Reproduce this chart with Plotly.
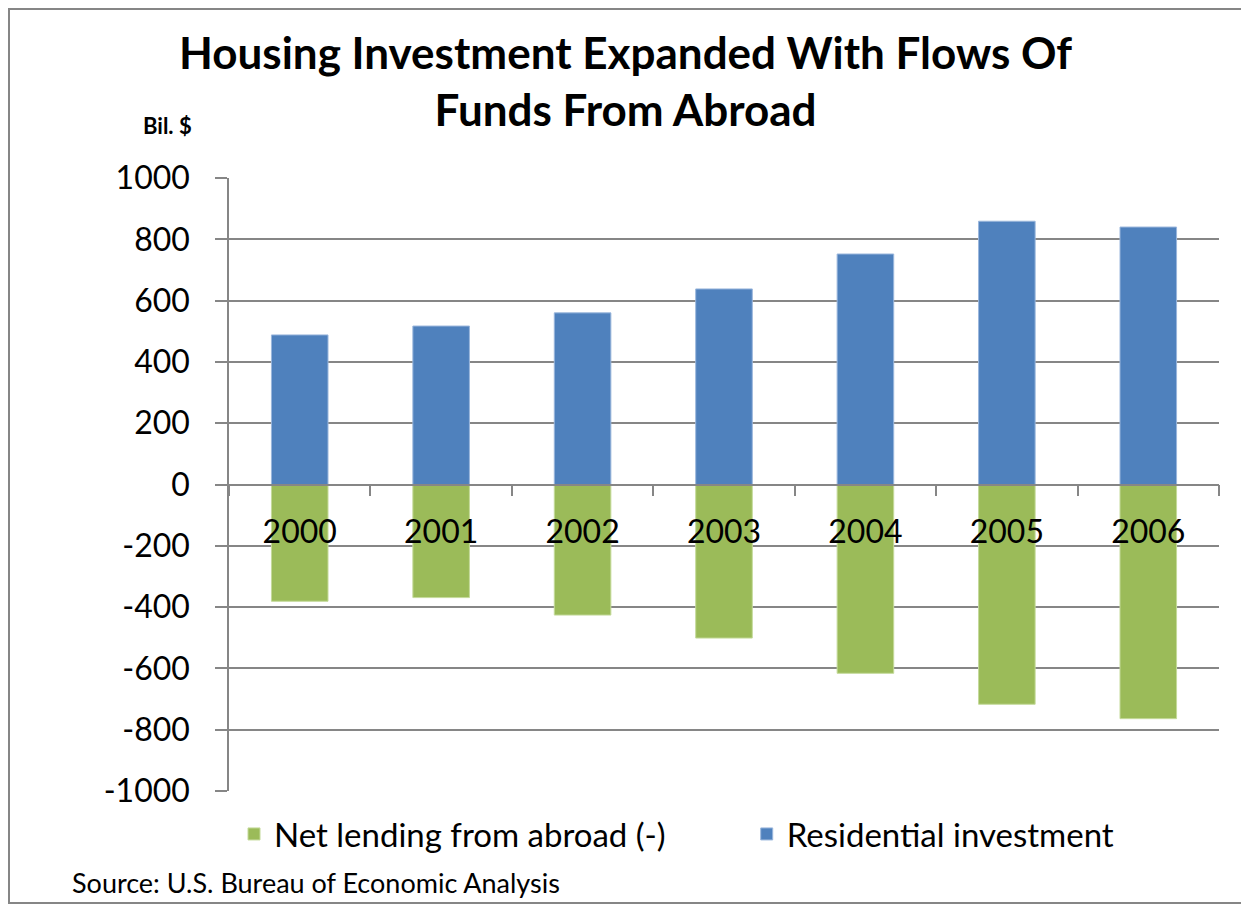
import plotly.graph_objects as go

years = ["2000", "2001", "2002", "2003", "2004", "2005", "2006"]
net_lending = [-381, -369, -426, -501, -616, -717, -764]
residential = [488, 517, 560, 638, 752, 859, 840]
series_names = ["Net lending from abroad (-)", "Residential investment"]
y_ticks = [-1000, -800, -600, -400, -200, 0, 200, 400, 600, 800, 1000]
y_tick_text = ["-1000", "-800", "-600", "-400", "-200", "0", "200", "400", "600", "800", "1000"]

FONT = "Lato"
OFF = 8  # page body margin
W, H = 1249 - OFF, 904 - OFF
L, T = 229 - OFF, 178 - OFF
PW, PH = 990, 613
R, B = W - L - PW, H - T - PH

def px(x):
    # reference screen pixel -> paper x
    return (x - OFF - L) / PW

def py(y):
    # reference screen pixel -> paper y
    return (T + PH - (y - OFF)) / PH

PAD = "\u00a0" * 9  # spacing between legend entries

fig = go.Figure()
fig.add_trace(go.Bar(
    x=years, y=net_lending, name=series_names[0] + PAD,
    marker=dict(color="#9BBB59", line=dict(color="#C4DA9A", width=1)),
    width=0.4,
))
fig.add_trace(go.Bar(
    x=years, y=residential, name=series_names[1],
    marker=dict(color="#4F81BD", line=dict(color="#9AB6DC", width=1)),
    width=0.4,
))

fig.update_layout(
    width=W, height=H,
    margin=dict(l=L, r=R, t=T, b=B),
    paper_bgcolor="white", plot_bgcolor="white",
    barmode="relative",
    font=dict(family=FONT, color="black"),
    showlegend=True,
    legend=dict(
        orientation="h", x=px(234), xanchor="left", y=py(834), yanchor="middle",
        font=dict(family=FONT, size=33, color="black"),
        traceorder="normal", itemwidth=30,
    ),
    xaxis=dict(
        type="category",
        anchor="free", position=0.5,
        showline=True, linecolor="#868686", linewidth=1.5,
        ticks="outside", tickson="boundaries", ticklen=11, tickcolor="#868686", tickwidth=1.5,
        tickfont=dict(family=FONT, size=32, color="black"),
        ticklabelstandoff=19,
        showgrid=False, zeroline=False,
        range=[-0.5, 6.5],
    ),
    yaxis=dict(
        range=[-1000, 1000], tickvals=y_ticks, ticktext=y_tick_text,
        showline=True, linecolor="#868686", linewidth=1.5,
        ticks="outside", ticklen=12, tickcolor="#868686", tickwidth=1.5,
        showgrid=True, gridcolor="#868686", gridwidth=1.5,
        zeroline=False,
        tickfont=dict(family=FONT, size=32, color="black"),
        ticklabelstandoff=19,
    ),
)

fig.add_annotation(
    text="<b>Housing Investment Expanded With Flows Of<br>Funds From Abroad</b>",
    x=px(625), y=py(80), xref="paper", yref="paper", showarrow=False,
    font=dict(family=FONT, size=44, color="black"),
    xanchor="center", yanchor="middle", align="center",
)
fig.add_annotation(
    text="<b>Bil. $</b>", x=px(167), y=py(125), xref="paper", yref="paper",
    showarrow=False, font=dict(family=FONT, size=22, color="black"),
    xanchor="center", yanchor="middle",
)
fig.add_annotation(
    text="Source: U.S. Bureau of Economic Analysis", x=px(70), y=py(882),
    xref="paper", yref="paper", showarrow=False,
    font=dict(family=FONT, size=27, color="black"),
    xanchor="left", yanchor="middle",
)
fig.add_shape(
    type="rect", xref="paper", yref="paper",
    x0=px(9), x1=px(1247), y0=py(903), y1=py(9),
    line=dict(color="#868686", width=2), fillcolor="rgba(0,0,0,0)", layer="below",
)

fig.write_html("out.html")
